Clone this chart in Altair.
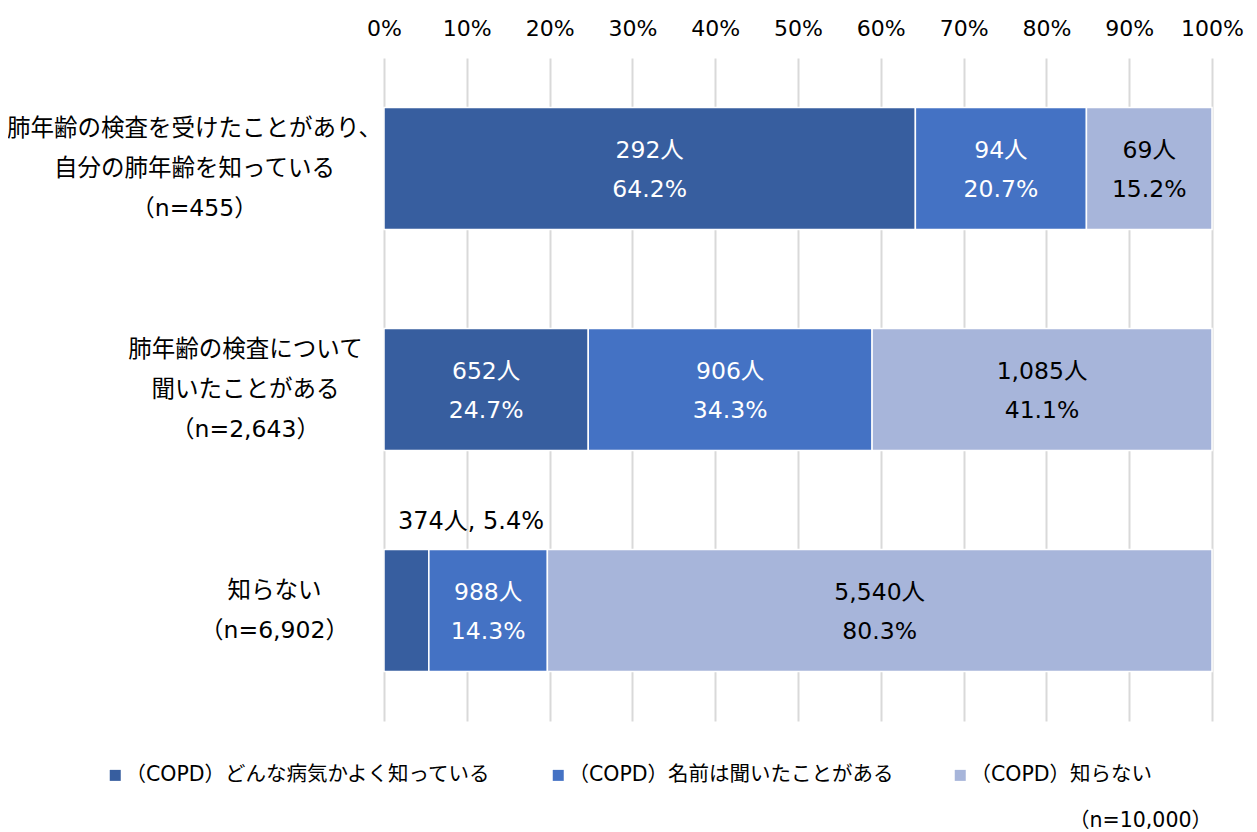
import altair as alt
import pandas as pd

categories = [
    "肺年齢の検査を受けたことがあり、\n自分の肺年齢を知っている\n（n=455）",
    "肺年齢の検査について\n聞いたことがある\n（n=2,643）",
    "知らない\n（n=6,902）",
]
series = [
    "（COPD）どんな病気かよく知っている",
    "（COPD）名前は聞いたことがある",
    "（COPD）知らない",
]
counts = [[292, 94, 69], [652, 906, 1085], [374, 988, 5540]]
pct_labels = [["64.2%", "20.7%", "15.2%"], ["24.7%", "34.3%", "41.1%"], ["5.4%", "14.3%", "80.3%"]]
colors = ["#375E9F", "#4472C4", "#A7B5DA"]
x_ticks = [i / 10 for i in range(11)]
note = "（n=10,000）"

FONT = "DejaVu Sans, Noto Sans CJK JP"

rows = []
for ci, cat in enumerate(categories):
    total = sum(counts[ci])
    cum = 0
    for si, s in enumerate(series):
        c = counts[ci][si]
        start = cum / total
        end = (cum + c) / total
        cum += c
        inside = not (ci == 2 and si == 0)
        rows.append({
            "cat": cat, "series": s, "order": si,
            "start": start, "end": end, "mid": (start + end) / 2,
            "label_in": f"{c:,}人\n{pct_labels[ci][si]}" if inside else "",
            "label_out": "" if inside else f"{c:,}人, {pct_labels[ci][si]}",
            "dark": si < 2,
        })
df = pd.DataFrame(rows)


def test_for(cat):
    return f"datum.value === {cat!r}".replace("\n", "\\n")


pad_cond = [
    {"test": test_for(categories[0]), "value": 190},
    {"test": test_for(categories[1]), "value": 139},
]
off_cond = [
    {"test": test_for(categories[0]), "value": -40},
    {"test": test_for(categories[1]), "value": -40},
]

y_enc = alt.Y(
    "cat:N", sort=categories, title=None,
    scale=alt.Scale(paddingInner=0.448, paddingOuter=0.224),
    axis=alt.Axis(
        domain=False, ticks=False, labelAlign="center", labelBaseline="middle",
        labelFont=FONT, labelFontSize=23.5, labelColor="#000000", labelLineHeight=40,
        labelExpr="split(datum.label, '\\n')", labelLimit=0,
        labelPadding={"condition": pad_cond, "value": 110},
        labelOffset={"condition": off_cond, "value": -20},
    ),
)

base = alt.Chart(df)

bars = base.mark_bar(stroke="white", strokeWidth=1.5).encode(
    x=alt.X("start:Q", scale=alt.Scale(domain=[0, 1]), title=None,
            axis=alt.Axis(orient="top", values=x_ticks, format=".0%", grid=True,
                          gridColor="#D9D9D9", gridWidth=2, domain=False, ticks=False,
                          labelFont=FONT, labelFontSize=22, labelColor="#000000",
                          labelPadding=18, labelOverlap=False, labelFlush=False)),
    x2="end:Q",
    y=y_enc,
    color=alt.Color("series:N", sort=series, scale=alt.Scale(domain=series, range=colors),
                    legend=alt.Legend(title=None, orient="none", legendX=-279, legendY=707,
                                      padding=0,
                                      direction="horizontal", columns=3, symbolType="square",
                                      symbolSize=121, symbolStrokeWidth=0, labelFont=FONT,
                                      labelFontSize=20.5, labelColor="#000000",
                                      columnPadding=56, labelOffset=0, labelLimit=0)),
)

text_in = base.mark_text(lineBreak="\n", lineHeight=39, baseline="middle", align="center",
                         dy=-18, font=FONT, fontSize=23.5).encode(
    x="mid:Q",
    y=alt.Y("cat:N", sort=categories),
    text="label_in:N",
    color=alt.condition("datum.dark", alt.value("#FFFFFF"), alt.value("#000000")),
)

text_out = base.mark_text(baseline="middle", align="left", dx=14, dy=-89,
                          font=FONT, fontSize=24, color="#000000").encode(
    x="start:Q",
    y=alt.Y("cat:N", sort=categories),
    text="label_out:N",
)

chart = alt.layer(bars, text_in, text_out).properties(
    width=828, height=663,
    autosize=alt.AutoSizeParams(type="none"),
    padding={"left": 376, "top": 50, "right": 37, "bottom": 111},
    title=alt.TitleParams(note, orient="bottom", anchor="end", frame="group", font=FONT,
                          fontSize=20.5, fontWeight="normal", color="#000000", offset=25),
).configure_view(stroke=None)

chart.save("out.html", embed_options={"renderer": "svg", "actions": False})
